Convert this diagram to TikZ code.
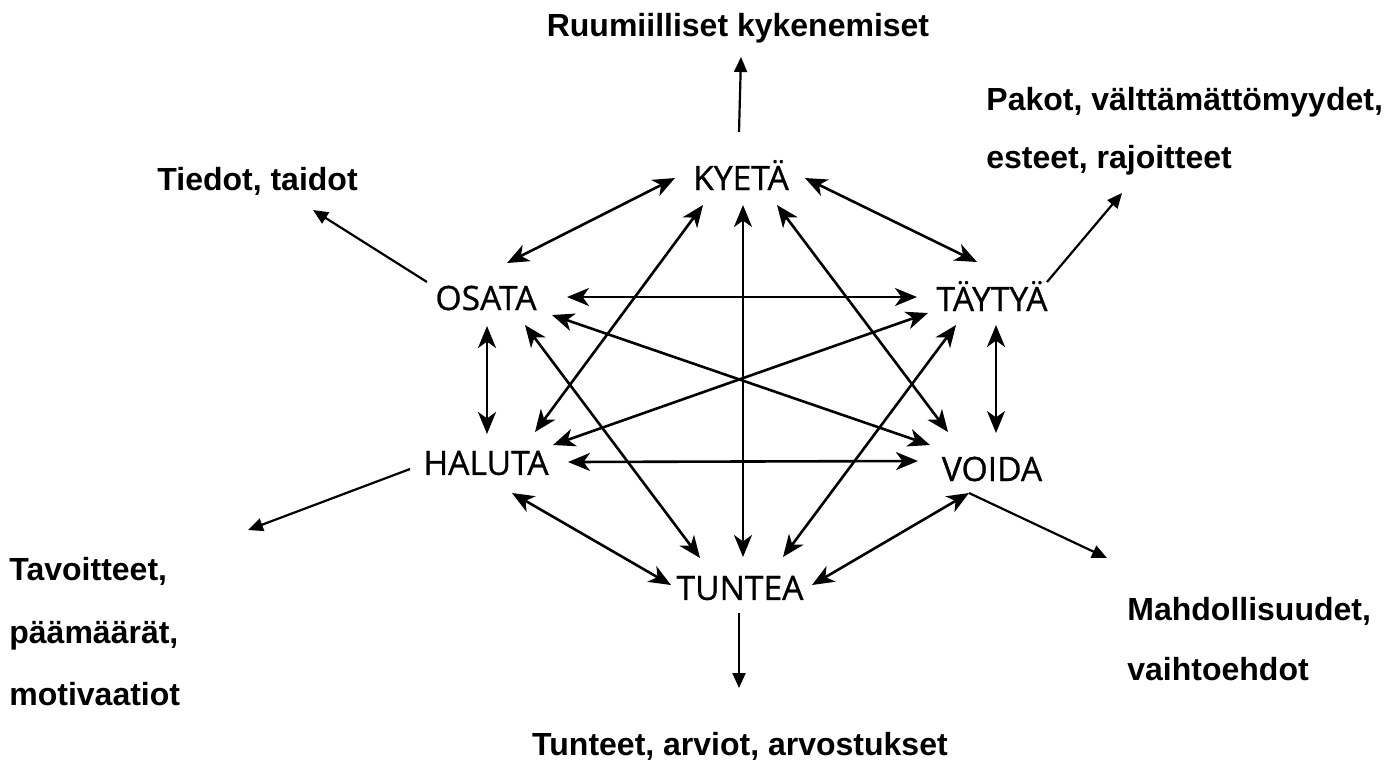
\documentclass[tikz,border=0pt]{standalone}
\usepackage{fontspec}
\setmainfont{Liberation Sans}
\newfontfamily\wordfont[FakeBold=0.8]{Open Sans}
\usetikzlibrary{arrows.meta,calc}
\begin{document}
\begin{tikzpicture}[x=0.5pt,y=-0.5pt,
  word/.style={font=\wordfont\fontsize{16.8}{19}\selectfont, inner sep=0pt},
  lab/.style={font=\bfseries\fontsize{16}{18}\selectfont, inner sep=0pt, anchor=base west},
  link/.style={line width=1.3pt, {Stealth[length=11pt,width=9pt,inset=3.2pt]}-{Stealth[length=11pt,width=9pt,inset=3.2pt]}},
  outarrow/.style={line width=1.1pt, -{Triangle[length=7.5pt,width=6.5pt]}}]
\useasboundingbox (0,0) rectangle (1397,773);
\fill[white] (0,0) rectangle (1397,773);

\node[word] (KY) at (741,175) {KYETÄ};
\node[word] (OS) at (486,298) {OSATA};
\node[word] (TA) at (992,296) {TÄYTYÄ};
\node[word] (HA) at (486,463) {HALUTA};
\node[word] (VO) at (992,469) {VOIDA};
\node[word] (TU) at (740,588) {TUNTEA};

\node[lab, anchor=base] (L1) at (738,36) {Ruumiilliset kykenemiset};
\node[lab] (L2a) at (986,110) {Pakot, välttämättömyydet,};
\node[lab] (L2b) at (986,168) {esteet, rajoitteet};
\node[lab] (L3) at (157,190) {Tiedot, taidot};
\node[lab] (L4a) at (9,580) {Tavoitteet,};
\node[lab] (L4b) at (9,643) {päämäärät,};
\node[lab] (L4c) at (9,705) {motivaatiot};
\node[lab] (L5a) at (1127,620) {Mahdollisuudet,};
\node[lab] (L5b) at (1127,680) {vaihtoehdot};
\node[lab, anchor=base] (L6) at (740,755) {Tunteet, arviot, arvostukset};

% inner double arrows
\draw[link] ($(KY)+(-66,3)$) -- ($(OS)+(21,-35)$);
\draw[link] ($(KY)+(64,3)$) -- ($(TA)+(-15,-34)$);
\draw[link] ($(KY)+(-38,30)$) -- ($(HA)+(49,-31)$);
\draw[link] ($(KY)+(2,30)$) -- ($(TU)+(3,-31)$);
\draw[link] ($(KY)+(36,30)$) -- ($(VO)+(-44,-37)$);
\draw[link] ($(OS)+(81,-1)$) -- ($(TA)+(-75,1)$);
\draw[link] ($(OS)+(66,17)$) -- ($(VO)+(-62,-24)$);
\draw[link] ($(OS)+(39,27)$) -- ($(TU)+(-40,-30)$);
\draw[link] ($(OS)+(1,28)$) -- ($(HA)+(1,-29)$);
\draw[link] ($(TA)+(-64,17)$) -- ($(HA)+(67,-18)$);
\draw[link] ($(TA)+(-36,29)$) -- ($(TU)+(43,-31)$);
\draw[link] ($(TA)+(4,29)$) -- ($(VO)+(4,-36)$);
\draw[link] ($(HA)+(82,-1)$) -- ($(VO)+(-74,-8)$);
\draw[link] ($(HA)+(26,30)$) -- ($(TU)+(-69,-3)$);
\draw[link] ($(VO)+(-23,24)$) -- ($(TU)+(72,-3)$);

% outer arrows
\draw[outarrow] ($(KY)+(-2,-43)$) -- ($(KY)+(0,-118)$);
\draw[outarrow] ($(OS)+(-59,-16)$) -- ($(OS)+(-173,-88)$);
\draw[outarrow] ($(TA)+(55,-14)$) -- ($(TA)+(130,-103)$);
\draw[outarrow] ($(HA)+(-76,6)$) -- ($(HA)+(-238,67)$);
\draw[outarrow] ($(VO)+(-23,24)$) -- ($(VO)+(115,89)$);
\draw[outarrow] ($(TU)+(-1,25)$) -- ($(TU)+(-1,100)$);
\end{tikzpicture}
\end{document}
